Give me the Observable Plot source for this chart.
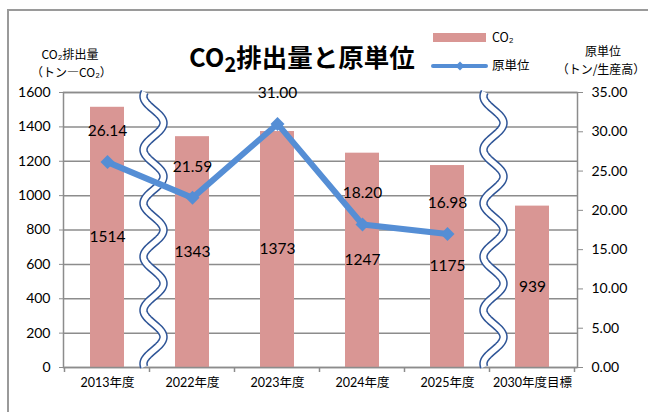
<!DOCTYPE html>
<html>
<head>
<meta charset="utf-8">
<script src="https://cdn.jsdelivr.net/npm/d3@7"></script>
<script src="https://cdn.jsdelivr.net/npm/@observablehq/plot@0.6"></script>
<style>
  html, body { margin: 0; padding: 0; background: #fff; }
  #wrap { position: relative; width: 648px; height: 412px; overflow: hidden; background: #fff; }
  .border { position: absolute; left: 7px; top: 9px; width: 700px; height: 500px; border-left: 2px solid #9a9a9a; border-top: 2px solid #9a9a9a; }
  .t { position: absolute; white-space: nowrap; line-height: 1; font-family: "Noto Sans CJK JP", sans-serif; color: #000; }
  #chart { position: absolute; left: 0; top: 0; }
</style>
</head>
<body>
<div id="wrap">
  <div class="border"></div>
  <div id="chart"></div>
  <div class="t" style="left:33px; top:48px; font-size:12px; width:74px; text-align:center;">CO₂排出量</div>
  <div class="t" style="left:31px; top:66px; font-size:12px; width:80px; text-align:center;">（トン―CO₂）</div>
  <div class="t" style="left:189px; top:43px; font-size:25.5px; font-weight:bold;">CO<span style="font-size:20px; position:relative; top:5px;">2</span>排出量と原単位</div>
  <div class="t" style="left:560px; top:45px; font-size:12px; width:86px; text-align:center;">原単位</div>
  <div class="t" style="left:556px; top:63px; font-size:12px; width:90px; text-align:center;">（トン/生産高）</div>
  <div style="position:absolute; left:433px; top:33px; width:53px; height:9px; background:#D99694;"></div>
  <div class="t" style="left:492px; top:31px; font-size:12.5px;">CO₂</div>
  <svg style="position:absolute; left:430px; top:58px;" width="60" height="16">
    <line x1="3" y1="8" x2="56" y2="8" stroke="#558ED5" stroke-width="4" stroke-linecap="round"></line>
    <path d="M30,3.5 L34.5,8 L30,12.5 L25.5,8 Z" fill="#558ED5"></path>
  </svg>
  <div class="t" style="left:492px; top:59px; font-size:12.5px;">原単位</div>
</div>
<script>
const categories = ["2013年度", "2022年度", "2023年度", "2024年度", "2025年度", "2030年度目標"];
const co2 = [1514, 1343, 1373, 1247, 1175, 939];
const intensity = [26.14, 21.59, 31.00, 18.20, 16.98, null];
const leftTicks = [0, 200, 400, 600, 800, 1000, 1200, 1400, 1600];
const rightTicks = [0, 5, 10, 15, 20, 25, 30, 35];
const breakAfter = [0, 4]; // axis breaks drawn after these category indices

const k = 1600 / 35;
const barData = categories.map((c, i) => ({cat: c, co2: co2[i]}));
const lineData = categories.map((c, i) => ({cat: c, v: intensity[i]})).filter(d => d.v != null);

const padInner = 0.6, padOuter = 0.3;

function decorations(index, scales, values, dimensions, context) {
  const ns = "http://www.w3.org/2000/svg";
  const g = document.createElementNS(ns, "g");
  const x = scales.x, y = scales.y;
  const step = x(categories[1]) - x(categories[0]);
  const boundary = i => x(categories[0]) - padOuter * step + (i + 1) * step; // boundary after category i
  const y0 = y(0), y1 = y(1600);
  for (let i = -1; i < categories.length; i++) {
    const bx = boundary(i);
    const t = document.createElementNS(ns, "line");
    t.setAttribute("x1", bx); t.setAttribute("x2", bx);
    t.setAttribute("y1", y0); t.setAttribute("y2", y0 + 5);
    t.setAttribute("stroke", "#8c8c8c"); t.setAttribute("stroke-width", 1.5);
    g.appendChild(t);
  }
  for (const i of breakAfter) {
    const cx = boundary(i) + 4;
    let d = "";
    for (let yy = y1; yy <= y0; yy += 1) {
      const xx = cx + 10 * Math.cos(2 * Math.PI * (yy - (y1 + 31)) / 53.5);
      d += (d ? "L" : "M") + xx.toFixed(2) + "," + yy.toFixed(2);
    }
    const outer = document.createElementNS(ns, "path");
    outer.setAttribute("d", d); outer.setAttribute("fill", "none");
    outer.setAttribute("stroke", "#2F5597"); outer.setAttribute("stroke-width", 8.5);
    g.appendChild(outer);
    const inner = document.createElementNS(ns, "path");
    inner.setAttribute("d", d); inner.setAttribute("fill", "none");
    inner.setAttribute("stroke", "#fff"); inner.setAttribute("stroke-width", 5.5);
    g.appendChild(inner);
  }
  return g;
}

const chart = Plot.plot({
  width: 648,
  height: 412,
  marginLeft: 63,
  marginRight: 71,
  marginTop: 92,
  marginBottom: 45,
  style: {fontFamily: "Lato, 'Noto Sans CJK JP', sans-serif", background: "transparent", color: "#000"},
  x: {domain: categories, paddingInner: padInner, paddingOuter: padOuter, label: null},
  y: {domain: [0, 1600], label: null},
  marks: [
    Plot.gridY(leftTicks, {stroke: "#8c8c8c", strokeOpacity: 1, strokeWidth: 1.5}),
    Plot.barY(barData, {x: "cat", y: "co2", fill: "#D99694"}),
    Plot.frame({stroke: "#8c8c8c", strokeWidth: 1.5}),
    decorations,
    Plot.line(lineData, {x: "cat", y: d => d.v * k, stroke: "#558ED5", strokeWidth: 6}),
    Plot.dot(lineData, {x: "cat", y: d => d.v * k, symbol: "diamond2", r: 6.3, fill: "#558ED5"}),
    Plot.text(lineData, {x: "cat", y: d => d.v * k, text: d => d.v.toFixed(2), dy: -31, fontSize: 15.5, fill: "#000"}),
    Plot.text(barData, {x: "cat", y: d => d.co2 / 2, text: d => String(d.co2), fontSize: 15.5, fill: "#000"}),
    Plot.axisY({ticks: leftTicks, tickFormat: d => String(d), tickSize: 4, tickPadding: 9, fontSize: 14, stroke: "#8c8c8c", fill: "#000", label: null}),
    Plot.axisY({anchor: "right", ticks: rightTicks.map(v => v * k), tickFormat: d => (d / k).toFixed(2), tickSize: 5, tickPadding: 9, fontSize: 14, stroke: "#8c8c8c", fill: "#000", label: null}),
    Plot.axisX({tickSize: 0, tickPadding: 11, fontSize: 12.5, fill: "#000", label: null})
  ]
});
document.getElementById("chart").appendChild(chart);
</script>
</body>
</html>
